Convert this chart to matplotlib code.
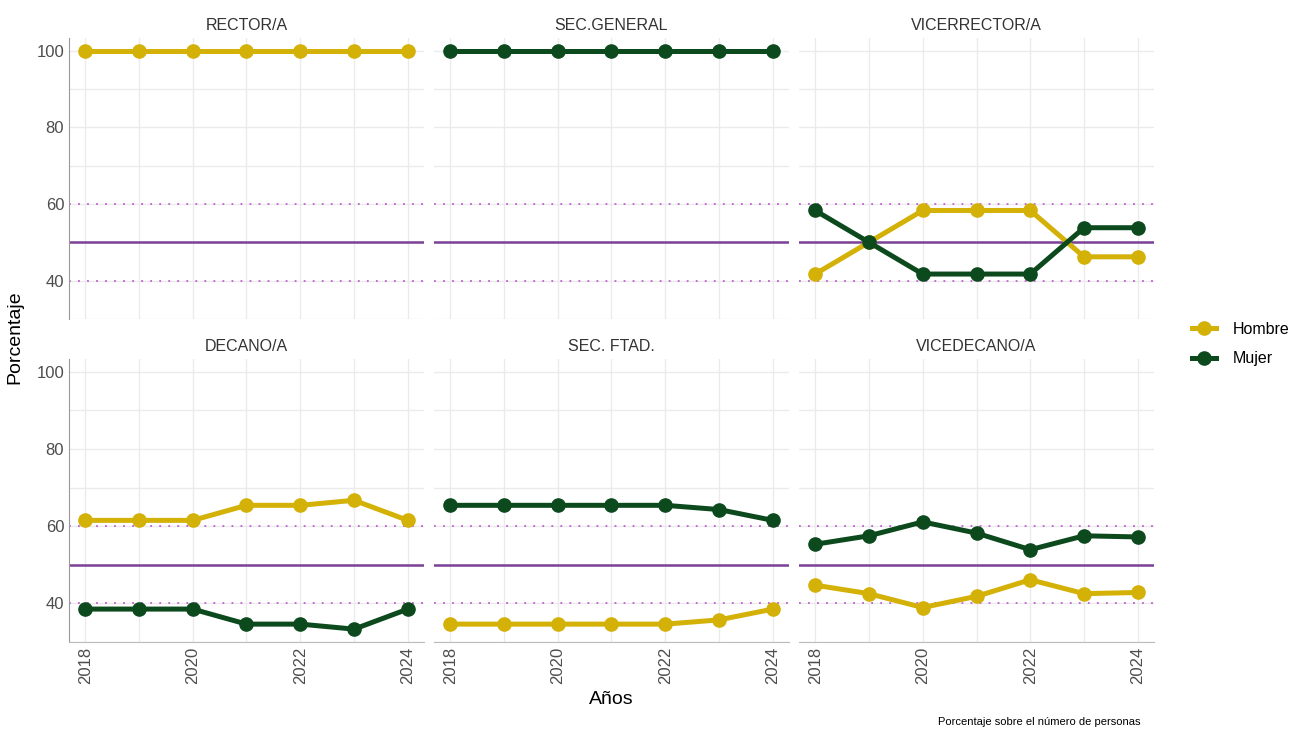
import matplotlib
matplotlib.use("Agg")
import matplotlib.pyplot as plt
from matplotlib.lines import Line2D
from matplotlib.ticker import MultipleLocator
import numpy as np

plt.rcParams['font.family'] = ['Liberation Sans', 'DejaVu Sans']

# Data
years = [2018, 2019, 2020, 2021, 2022, 2023, 2024]
cargos = ["RECTOR/A", "SEC.GENERAL", "VICERRECTOR/A", "DECANO/A", "SEC. FTAD.", "VICEDECANO/A"]
hombre = {
    "RECTOR/A": [100, 100, 100, 100, 100, 100, 100],
    "SEC.GENERAL": None,
    "VICERRECTOR/A": [41.7, 50.0, 58.3, 58.3, 58.3, 46.2, 46.2],
    "DECANO/A": [61.5, 61.5, 61.5, 65.4, 65.4, 66.7, 61.5],
    "SEC. FTAD.": [34.6, 34.6, 34.6, 34.6, 34.6, 35.7, 38.5],
    "VICEDECANO/A": [44.7, 42.5, 38.9, 41.8, 46.1, 42.5, 42.8],
}
mujer = {
    "RECTOR/A": None,
    "SEC.GENERAL": [100, 100, 100, 100, 100, 100, 100],
    "VICERRECTOR/A": [58.3, 50.0, 41.7, 41.7, 41.7, 53.8, 53.8],
    "DECANO/A": [38.5, 38.5, 38.5, 34.6, 34.6, 33.3, 38.5],
    "SEC. FTAD.": [65.4, 65.4, 65.4, 65.4, 65.4, 64.3, 61.5],
    "VICEDECANO/A": [55.3, 57.5, 61.1, 58.2, 53.9, 57.5, 57.2],
}

col_h = "#D4B106"
col_m = "#0C4A1E"

W, H = 1298, 733
fig = plt.figure(figsize=(W / 100, H / 100), dpi=100)

# shared y range like ggplot (5% expansion)
allv = [v for d in (hombre, mujer) for s in d.values() if s for v in s]
lo, hi = min(allv), max(allv)
pad = 0.05 * (hi - lo)
ylim = (lo - pad, hi + pad)

lefts = [69, 434, 799]
rows = [(38, 319), (359, 642)]

for i, cargo in enumerate(cargos):
    r, c = divmod(i, 3)
    top, bot = rows[r]
    x0 = lefts[c]
    ax = fig.add_axes([x0 / W, 1 - bot / H, 355 / W, (bot - top) / H])
    ax.set_xlim(2017.7, 2024.3)
    ax.set_ylim(*ylim)
    ax.xaxis.set_major_locator(MultipleLocator(2))
    ax.xaxis.set_minor_locator(MultipleLocator(1))
    ax.yaxis.set_major_locator(MultipleLocator(20))
    ax.yaxis.set_minor_locator(MultipleLocator(10))
    ax.grid(which="both", color="#EBEBEB", lw=1.0, zorder=0)
    for s in ax.spines.values():
        s.set_visible(False)
    ax.tick_params(which="both", length=0, colors="#4D4D4D", labelsize=12)
    if c == 0:
        ax.spines["left"].set_visible(True)
        ax.spines["left"].set_color("#999999")
    else:
        ax.set_yticklabels([])
    if r == 1:
        ax.spines["bottom"].set_visible(True)
        ax.spines["bottom"].set_color("#BBBBBB")
        ax.set_xticks([2018, 2020, 2022, 2024])
        ax.set_xticklabels(["2018", "2020", "2022", "2024"], rotation=90)
    else:
        ax.set_xticklabels([])

    ax.axhline(50, color="#7B4196", lw=1.8, zorder=2)
    ax.axhline(60, color="#C45BD6", lw=1.3, ls=(0, (1, 4)), zorder=2)
    ax.axhline(40, color="#C45BD6", lw=1.3, ls=(0, (1, 4)), zorder=2)

    if hombre[cargo]:
        ax.plot(years, hombre[cargo], color=col_h, lw=3.6, marker="o", ms=9.5, zorder=3,
                clip_on=False)
    if mujer[cargo]:
        ax.plot(years, mujer[cargo], color=col_m, lw=3.6, marker="o", ms=9.5, zorder=3,
                clip_on=False)
    ax.set_title(cargo, fontsize=11.5, color="#333333", pad=6)

fig.text(15 / W, 1 - 337 / H, "Porcentaje", rotation=90, ha="center", va="center",
         fontsize=14, color="black")
fig.text(611 / W, 1 - 700 / H, "Años", ha="center", va="center", fontsize=14, color="black")
fig.text(1140 / W, 1 - 722 / H, "Porcentaje sobre el número de personas", ha="right",
         va="center", fontsize=8, color="black")

handles = [
    Line2D([], [], color=col_h, lw=3.6, marker="o", ms=9.5),
    Line2D([], [], color=col_m, lw=3.6, marker="o", ms=9.5),
]
fig.legend(handles, ["Hombre", "Mujer"], loc="center left", bbox_to_anchor=(1178 / W, 1 - 344 / H),
           frameon=False, fontsize=11.5, handlelength=1.5, handletextpad=1.0, labelspacing=0.9)

fig.savefig("out.png", dpi=100, facecolor="white")
